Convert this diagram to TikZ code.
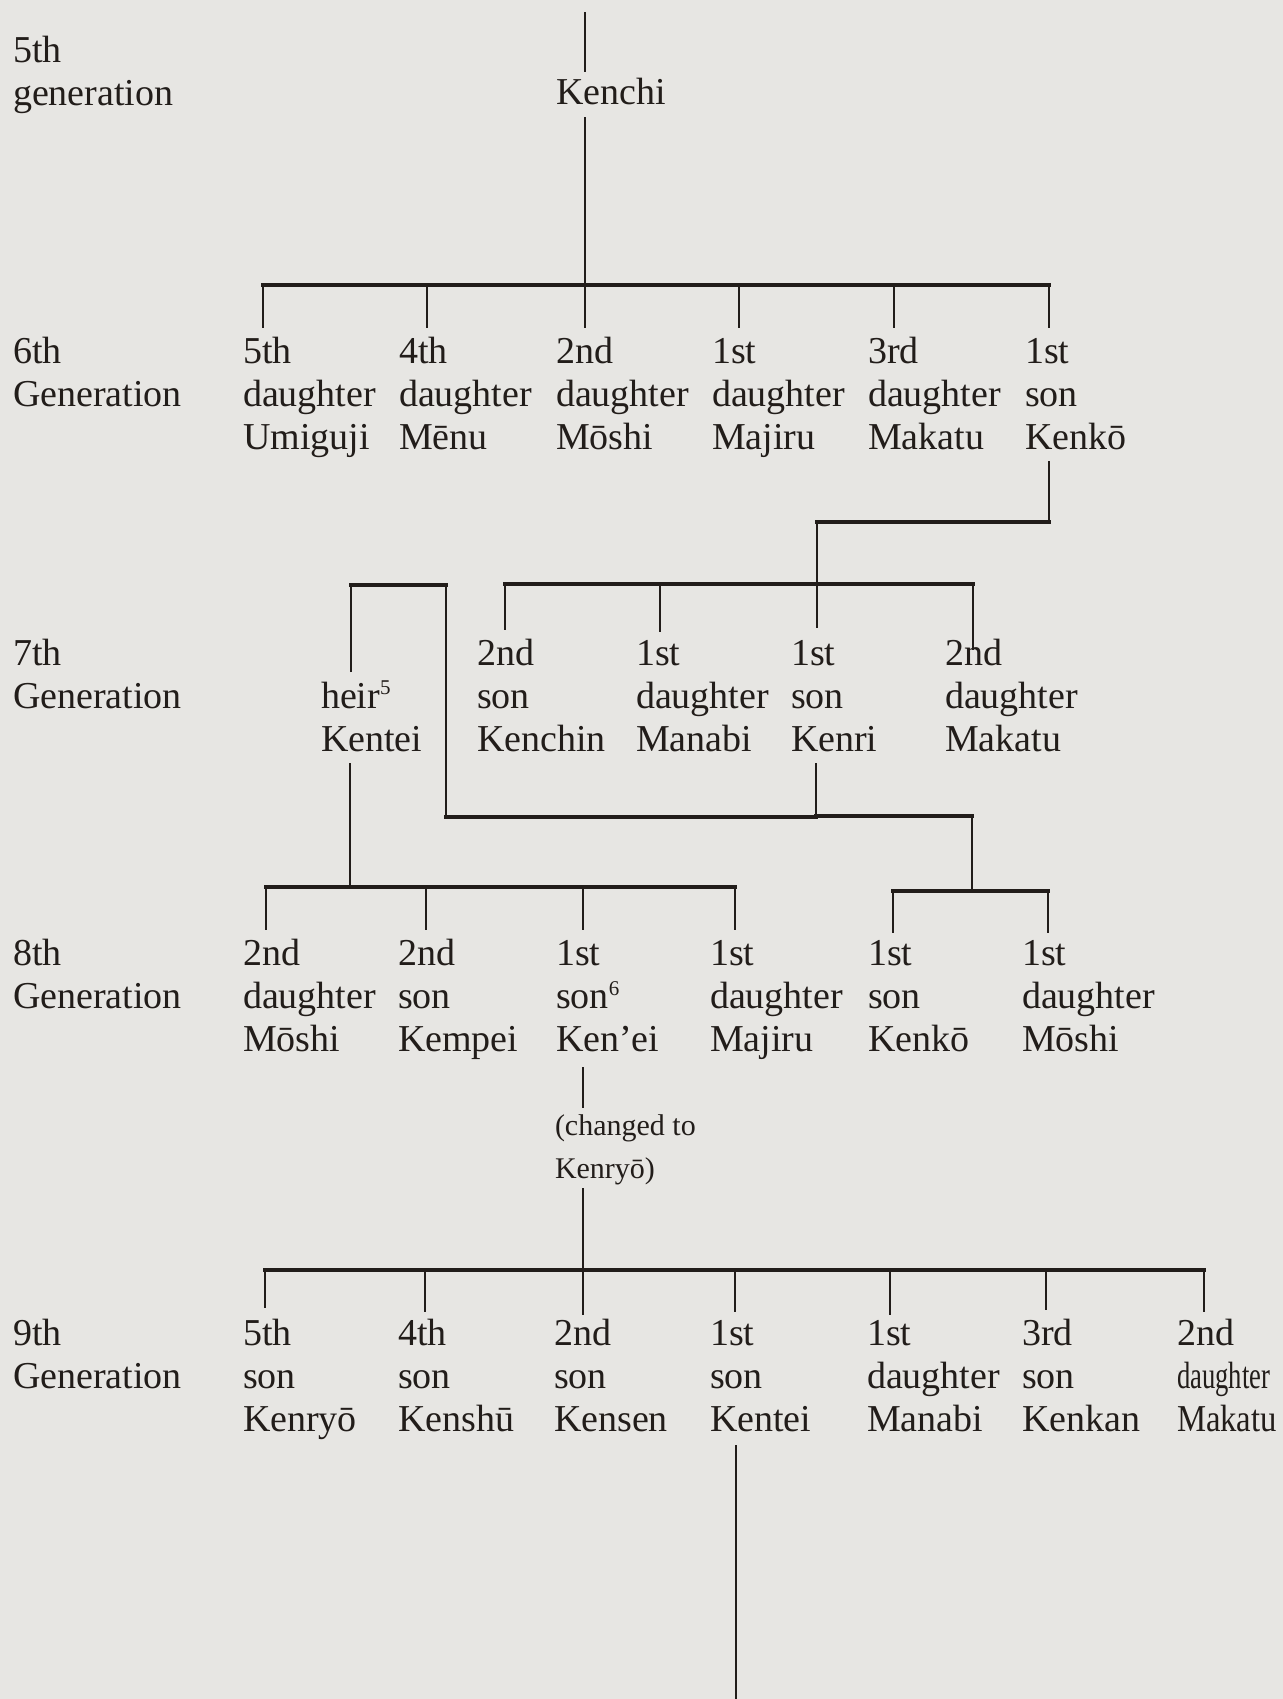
\documentclass[tikz,border=0pt]{standalone}
\usepackage{fontspec}
\setmainfont{Liberation Serif}
\usepackage{graphicx}
\definecolor{bg}{RGB}{231,230,227}
\definecolor{ink}{RGB}{34,29,26}
\newcommand{\pers}[3]{\vtop{\baselineskip=21.7pt\lineskiplimit=-30pt\hbox{#1}\hbox{#2}\hbox{#3}}}
\newcommand{\gen}[2]{\vtop{\baselineskip=21.6pt\lineskiplimit=-30pt\hbox{#1}\hbox{#2}}}
\newcommand{\chg}[2]{\vtop{\baselineskip=21.5pt\lineskiplimit=-30pt\hbox{#1}\hbox{#2}}}
\newcommand{\supnum}[1]{\raisebox{0.75ex}{\fontsize{10.5}{10.5}\selectfont #1}}
\begin{document}
\begin{tikzpicture}[x=0.5pt,y=-0.5pt,
  txt/.style={anchor=base west, inner sep=0pt, outer sep=0pt, text=ink, font=\fontsize{19}{21}\selectfont},
  smalltxt/.style={txt, font=\fontsize{15}{18}\selectfont},
  bar/.style={draw=ink, line width=1.7pt, line cap=rect},
  drop/.style={draw=ink, line width=1.4pt}]
\fill[bg] (0,0) rectangle (1283,1699);
\useasboundingbox (0,0) rectangle (1283,1699);

% generation labels
\node[txt] (g5) at (13,62) {\gen{5th}{generation}};
\node[txt] (g6) at (13,363) {\gen{6th}{Generation}};
\node[txt] (g7) at (13,665) {\gen{7th}{Generation}};
\node[txt] (g8) at (13,965) {\gen{8th}{Generation}};
\node[txt] (g9) at (13,1345) {\gen{9th}{Generation}};

% 5th generation
\node[txt] (kenchi) at (556,104) {Kenchi};

% 6th generation
\node[txt] (p61) at (243,363) {\pers{5th}{daughter}{Umiguji}};
\node[txt] (p62) at (399,363) {\pers{4th}{daughter}{Mēnu}};
\node[txt] (p63) at (556,363) {\pers{2nd}{daughter}{Mōshi}};
\node[txt] (p64) at (712,363) {\pers{1st}{daughter}{Majiru}};
\node[txt] (p65) at (868,363) {\pers{3rd}{daughter}{Makatu}};
\node[txt] (p66) at (1025,363) {\pers{1st}{son}{Kenkō}};

% 7th generation
\node[txt] (p71) at (321,708) {\gen{heir\supnum{5}}{Kentei}};
\node[txt] (p72) at (477,665) {\pers{2nd}{son}{Kenchin}};
\node[txt] (p73) at (636,665) {\pers{1st}{daughter}{Manabi}};
\node[txt] (p74) at (791,665) {\pers{1st}{son}{Kenri}};
\node[txt] (p75) at (945,665) {\pers{2nd}{daughter}{Makatu}};

% 8th generation
\node[txt] (p81) at (243,965) {\pers{2nd}{daughter}{Mōshi}};
\node[txt] (p82) at (398,965) {\pers{2nd}{son}{Kempei}};
\node[txt] (p83) at (556,965) {\pers{1st}{son\supnum{6}}{Ken’ei}};
\node[txt] (p84) at (710,965) {\pers{1st}{daughter}{Majiru}};
\node[txt] (p85) at (868,965) {\pers{1st}{son}{Kenkō}};
\node[txt] (p86) at (1022,965) {\pers{1st}{daughter}{Mōshi}};
\node[smalltxt] (chg) at (555,1135) {\chg{(changed to}{Kenryō)}};

% 9th generation
\node[txt] (p91) at (243,1345) {\pers{5th}{son}{Kenryō}};
\node[txt] (p92) at (398,1345) {\pers{4th}{son}{Kenshū}};
\node[txt] (p93) at (554,1345) {\pers{2nd}{son}{Kensen}};
\node[txt] (p94) at (710,1345) {\pers{1st}{son}{Kentei}};
\node[txt] (p95) at (867,1345) {\pers{1st}{daughter}{Manabi}};
\node[txt] (p96) at (1022,1345) {\pers{3rd}{son}{Kenkan}};
\node[txt] (p97) at (1177,1345) {\pers{2nd}{\scalebox{0.7}[1]{daughter}}{\scalebox{0.86}[1]{Makatu}}};

% ---- connectors ----
% Kenchi
\coordinate (t0) at (585,12);  \coordinate (t1) at (585,72);
\coordinate (k0) at (585,117); \coordinate (j6) at (585,285);
\draw[drop] (t0) -- (t1);
\draw[drop] (k0) -- (j6);
\coordinate (b6L) at (263,285); \coordinate (b6R) at (1049,285);
\draw[bar] (b6L) -- (b6R);
\foreach \x [count=\i] in {263,427,585,739,894,1049}{
  \coordinate (u6\i) at (\x,285); \coordinate (d6\i) at (\x,328);
  \draw[drop] (u6\i) -- (d6\i);}

% Kenko -> 7th
\coordinate (ka) at (1049,461); \coordinate (kb) at (1049,522);
\coordinate (kc) at (817,522);  \coordinate (j7) at (817,584);
\draw[drop] (ka) -- (kb);
\draw[bar] (kb) -- (kc);
\draw[drop] (kc) -- (j7);
\coordinate (b7L) at (505,584); \coordinate (b7R) at (973,584);
\draw[bar] (b7L) -- (b7R);
\coordinate (d71) at (505,630); \coordinate (d72) at (660,632);
\coordinate (d73) at (817,628); \coordinate (d74) at (973,650);
\coordinate (u72) at (660,584);
\draw[drop] (b7L) -- (d71);
\draw[drop] (u72) -- (d72);
\draw[drop] (j7) -- (d73);
\draw[drop] (b7R) -- (d74);

% heir Kentei link to Kenri line
\coordinate (h0) at (351,672); \coordinate (h1) at (351,585);
\coordinate (h2) at (446,585); \coordinate (h3) at (446,817);
\coordinate (h4) at (816,817);
\draw[drop] (h0) -- (h1);
\draw[bar] (h1) -- (h2);
\draw[drop] (h2) -- (h3);
\draw[bar] (h3) -- (h4);

% Kenri -> 8th right
\coordinate (r0) at (816,763); \coordinate (r1) at (816,816);
\coordinate (r2) at (972,816); \coordinate (r3) at (972,891);
\draw[drop] (r0) -- (h4);
\draw[bar] (r1) -- (r2);
\draw[drop] (r2) -- (r3);
\coordinate (b8rL) at (893,891); \coordinate (b8rR) at (1048,891);
\draw[bar] (b8rL) -- (b8rR);
\coordinate (d85) at (893,933); \coordinate (d86) at (1048,933);
\draw[drop] (b8rL) -- (d85);
\draw[drop] (b8rR) -- (d86);

% Kentei -> 8th left
\coordinate (e0) at (350,763); \coordinate (e1) at (350,887);
\draw[drop] (e0) -- (e1);
\coordinate (b8L) at (266,887); \coordinate (b8R) at (735,887);
\draw[bar] (b8L) -- (b8R);
\foreach \x [count=\i] in {266,426,583,735}{
  \coordinate (u8\i) at (\x,887); \coordinate (d8\i) at (\x,930);
  \draw[drop] (u8\i) -- (d8\i);}

% Ken'ei -> changed -> 9th
\coordinate (c0) at (583,1067); \coordinate (c1) at (583,1108);
\draw[drop] (c0) -- (c1);
\coordinate (c2) at (583,1188); \coordinate (j9) at (583,1270);
\draw[drop] (c2) -- (j9);
\coordinate (b9L) at (265,1270); \coordinate (b9R) at (1204,1270);
\draw[bar] (b9L) -- (b9R);
\foreach \x/\e [count=\i] in {265/1308,425/1312,583/1315,735/1312,890/1315,1046/1310,1204/1312}{
  \coordinate (u9\i) at (\x,1270); \coordinate (d9\i) at (\x,\e);
  \draw[drop] (u9\i) -- (d9\i);}

% Kentei (9th) line down
\coordinate (f0) at (736,1445); \coordinate (f1) at (736,1699);
\draw[drop] (f0) -- (f1);
\end{tikzpicture}
\end{document}
